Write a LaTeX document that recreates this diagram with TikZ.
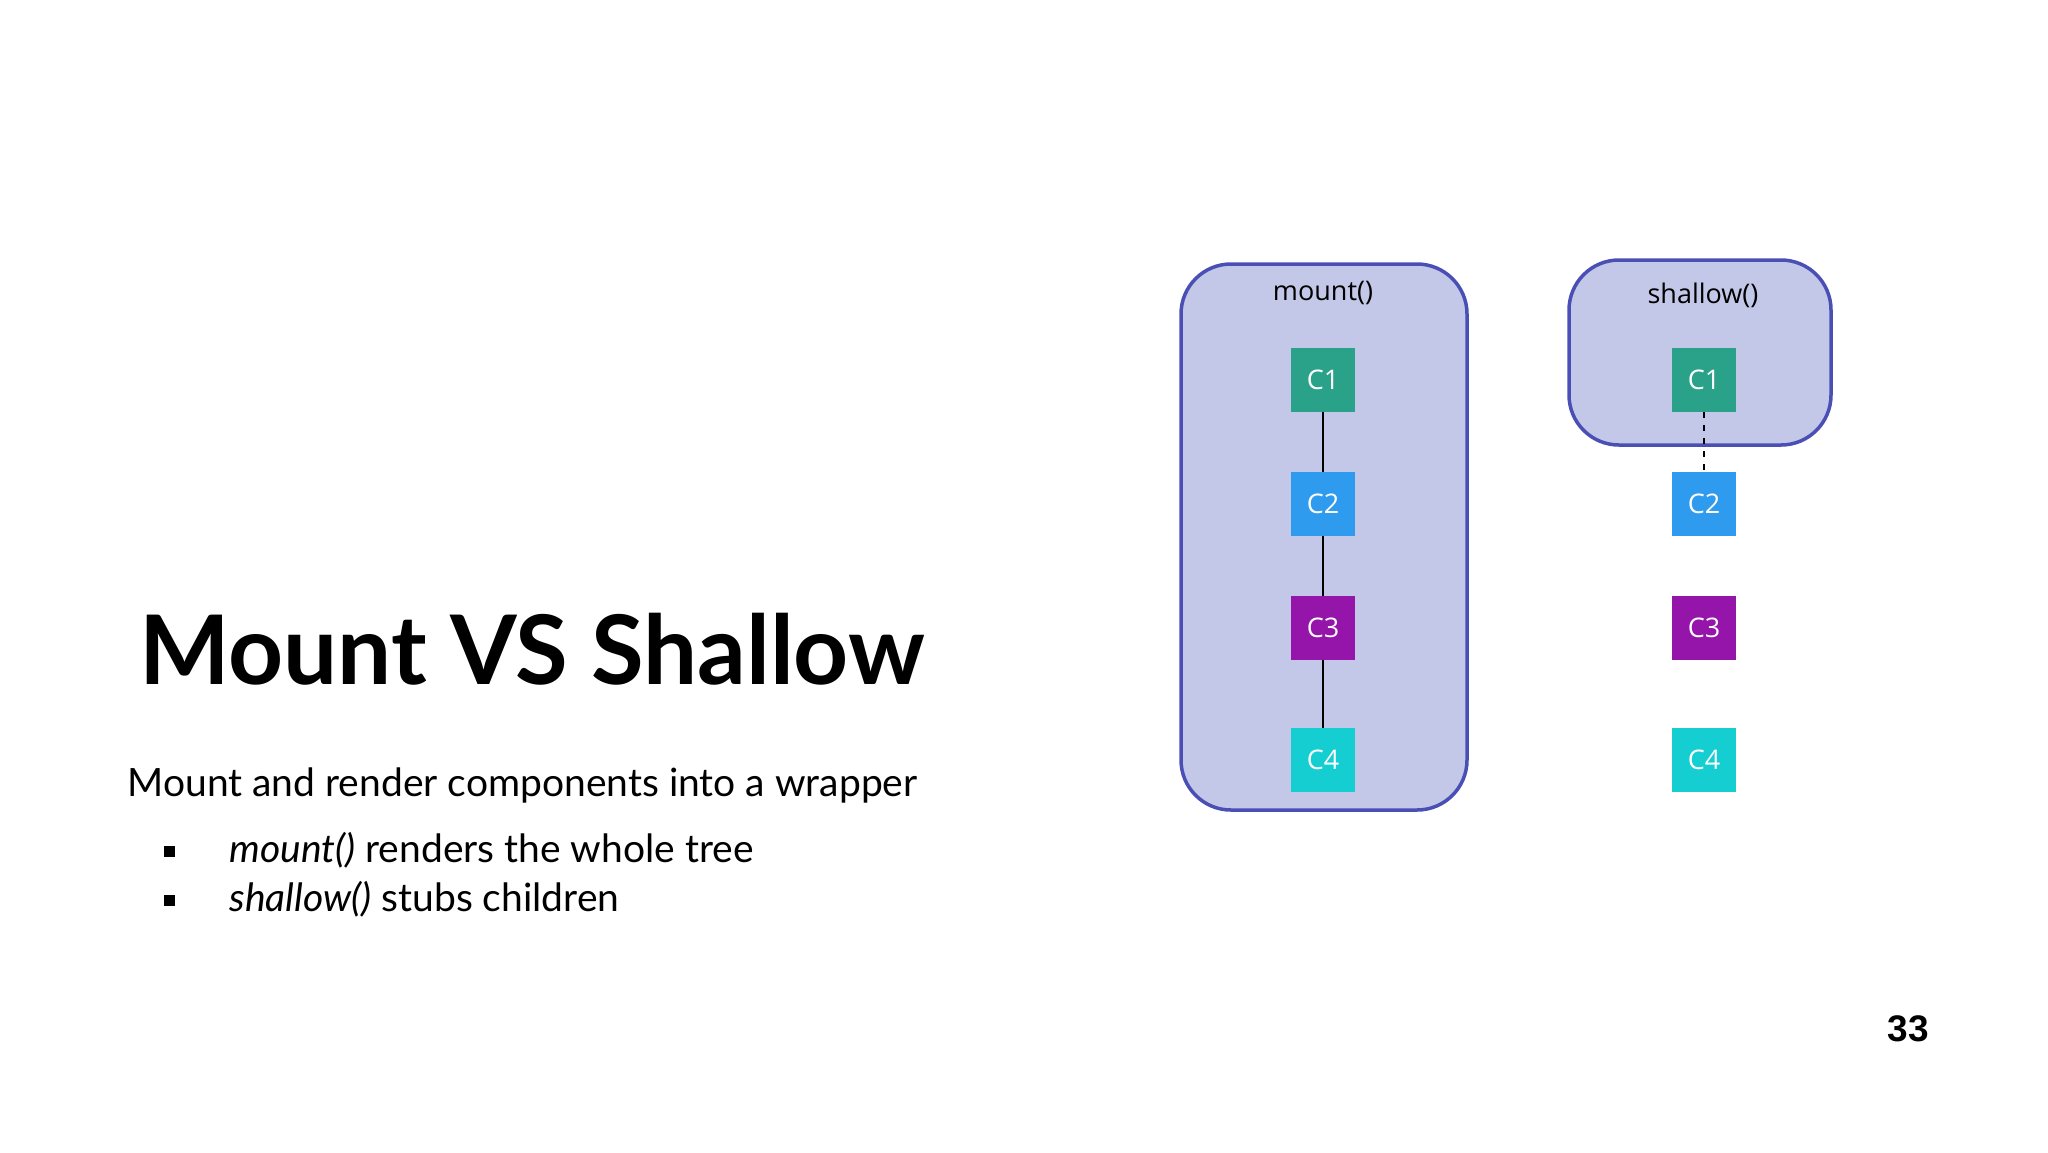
\documentclass[tikz,border=0pt]{standalone}
\usepackage{fontspec}
\setmainfont{Lato}
\newfontfamily\osans{Open Sans}
\newfontfamily\lsans{Liberation Sans}
\definecolor{boxfill}{HTML}{C3C8E8}
\definecolor{boxline}{HTML}{4A4FB5}
\definecolor{cone}{HTML}{2AA28A}
\definecolor{ctwo}{HTML}{2E9BEE}
\definecolor{cthree}{HTML}{9514AA}
\definecolor{cfour}{HTML}{14CED2}
\tikzset{
 wrap/.style={draw=boxline,fill=boxfill,line width=3.5pt,rounded corners=50pt},
 comp/.style={minimum width=64pt,minimum height=64pt,inner sep=0pt,text=white,font=\osans\fontsize{27}{30}\selectfont},
 lbl/.style={font=\osans\fontsize{27}{30}\selectfont},
 link/.style={line width=1.5pt}
}
\begin{document}
\begin{tikzpicture}[x=1pt,y=-1pt]
\useasboundingbox (0,0) rectangle (2048,1152);
\fill[white] (0,0) rectangle (2048,1152);
\draw[wrap] (1181,264) rectangle (1467,810);
\draw[wrap] (1569,260) rectangle (1831,445);
\node[lbl] (lm) at (1323,293) {mount()};
\node[lbl] (ls) at (1703,295) {shallow()};
\node[comp,fill=cone] (a1) at (1323,380) {C1};
\node[comp,fill=ctwo] (a2) at (1323,504) {C2};
\node[comp,fill=cthree] (a3) at (1323,628) {C3};
\node[comp,fill=cfour] (a4) at (1323,760) {C4};
\node[comp,fill=cone] (b1) at (1704,380) {C1};
\node[comp,fill=ctwo] (b2) at (1704,504) {C2};
\node[comp,fill=cthree] (b3) at (1704,628) {C3};
\node[comp,fill=cfour] (b4) at (1704,760) {C4};
\draw[link] (a1) -- (a2);
\draw[link] (a2) -- (a3);
\draw[link] (a3) -- (a4);
\draw[link,dash pattern=on 6pt off 7pt] (b1) -- (b2);
\node[font=\bfseries\fontsize{96}{110}\selectfont] (title) at (532,649) {Mount VS Shallow};
\node[anchor=west,font=\fontsize{39}{44}\selectfont] (sub) at (124,785) {Mount and render components into a wrapper};
\node[anchor=west,font=\fontsize{39}{44}\selectfont] (i1) at (226,850) {\textit{mount()} renders the whole tree};
\node[anchor=west,font=\fontsize{39}{44}\selectfont] (i2) at (226,899) {\textit{shallow()} stubs children};
\fill (164,846) rectangle (175,857);
\fill (164,895) rectangle (175,906);
\node[font=\lsans\bfseries\fontsize{37}{40}\selectfont] (pg) at (1908,1029) {33};
\end{tikzpicture}
\end{document}
